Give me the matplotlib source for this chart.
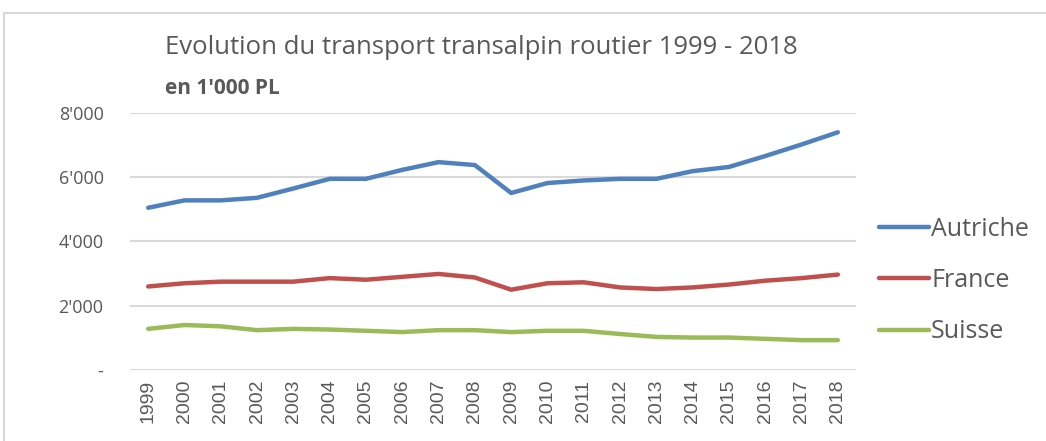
import matplotlib.pyplot as plt
from matplotlib.patches import Rectangle

years = [str(y) for y in range(1999, 2019)]
autriche = [5050, 5280, 5280, 5360, 5650, 5950, 5950, 6230, 6470, 6380,
            5510, 5820, 5900, 5950, 5950, 6190, 6320, 6660, 7020, 7400]
france = [2600, 2700, 2750, 2750, 2750, 2860, 2810, 2900, 2990, 2880,
          2500, 2700, 2730, 2570, 2520, 2570, 2660, 2780, 2860, 2970]
suisse = [1280, 1400, 1360, 1240, 1280, 1260, 1220, 1180, 1240, 1240,
          1180, 1220, 1220, 1120, 1030, 1010, 1010, 970, 930, 930]
yticks = [0, 2000, 4000, 6000, 8000]
ylabels = ["-", "2'000", "4'000", "6'000", "8'000"]

grey = '#595959'
fig = plt.figure(figsize=(10.46, 4.41), dpi=100)

# outer chart frame
fig.patches.append(Rectangle((4 / 1046, -0.1), 1.1, 1 - 13 / 441 + 0.1,
                             transform=fig.transFigure, fill=False,
                             edgecolor='#d9d9d9', linewidth=1.5))

ax = fig.add_axes([130 / 1046, 1 - 370 / 441, 726 / 1046, 257 / 441])
x = list(range(len(years)))
ax.plot(x, autriche, color='#4F81BD', lw=3.2, solid_capstyle='round', label='Autriche')
ax.plot(x, france, color='#C0504D', lw=3.2, solid_capstyle='round', label='France')
ax.plot(x, suisse, color='#9BBB59', lw=3.2, solid_capstyle='round', label='Suisse')

ax.set_xlim(-0.5, len(years) - 0.5)
ax.set_ylim(0, 8000)
ax.set_yticks(yticks)
ax.set_yticklabels(ylabels, fontsize=13, color=grey, family='Open Sans')
ax.set_xticks(x)
ax.set_xticklabels(years, rotation=90, fontsize=14, color=grey, family='Liberation Sans')
ax.tick_params(length=0)
ax.tick_params(axis='x', pad=7)
ax.tick_params(axis='y', pad=19)
ax.grid(axis='y', color='#d9d9d9', lw=1.5)
ax.set_axisbelow(True)
for s in ax.spines.values():
    s.set_visible(False)

leg = ax.legend(loc='center left', bbox_to_anchor=(1.0, 0.348), frameon=False,
                handlelength=2.0, handletextpad=0.1, labelspacing=1.05,
                prop={'family': 'Open Sans', 'size': 18})
for t in leg.get_texts():
    t.set_color(grey)

fig.text(165 / 1046, 1 - 48 / 441, "Evolution du transport transalpin routier 1999 - 2018",
         fontsize=18.5, color=grey, family='Open Sans', va='center')
fig.text(165 / 1046, 1 - 88 / 441, "en 1'000 PL", fontsize=15, color=grey,
         family='Open Sans', weight='bold', va='center')

plt.savefig('out.png', dpi=100)
